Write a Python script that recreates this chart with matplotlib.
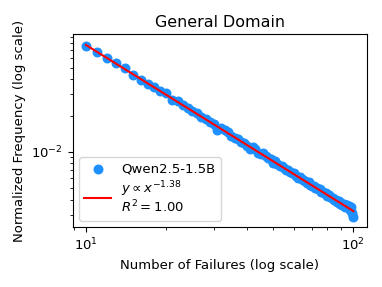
import numpy as np
import matplotlib
matplotlib.use('Agg')
import matplotlib.pyplot as plt

# numero de falhas (10..100)
failures = list(range(10, 101))

# frequencia normalizada (x 1e-3)
freq_e3 = [
    75.2, 68.1, 59.8, 54.4, 49.9, 43.6, 39.3, 36.8, 34.6, 32.3,
    30.8, 27.1, 26.5, 24.7, 22.9, 21.8, 20.9, 19.4, 18.8, 17.6,
    16.9, 15.2, 15.8, 15.1, 14.5, 13.6, 12.9, 12.8, 12.1, 11.9,
    11.1, 10.6, 10.9, 10.5, 9.8, 9.5, 9.7, 9.3, 8.8, 8.7,
    8.1, 8.3, 7.9, 7.6, 7.6, 7.3, 7.1, 7.1, 6.8, 6.6,
    6.6, 6.3, 6.1, 6.2, 5.9, 5.8, 5.7, 5.5, 5.6, 5.3,
    5.2, 5.2, 5.0, 4.95, 4.85, 4.9, 4.65, 4.6, 4.5, 4.5,
    4.3, 4.35, 4.2, 4.1, 4.15, 4.0, 3.95, 3.85, 3.9, 3.7,
    3.75, 3.6, 3.65, 3.5, 3.6, 3.62, 3.55, 3.3, 3.45, 3.1,
    2.85,
]

model_name = 'Qwen2.5-1.5B'
exponent_label = '-1.38'
r2_label = '1.00'


def main():
    plt.rcParams['font.size'] = 9.5
    plt.rcParams['axes.titlesize'] = 11.4

    x = np.array(failures, dtype=float)
    y = np.array(freq_e3) * 1e-3

    # ajuste em log-log
    slope, intercept = np.polyfit(np.log10(x), np.log10(y), 1)
    x_fit = np.array([x.min(), x.max()])
    y_fit = 10 ** (intercept + slope * np.log10(x_fit))

    fig = plt.figure(figsize=(3.82, 2.87), dpi=100)
    ax = fig.add_axes([0.190, 0.208, 0.770, 0.672])

    ax.scatter(x, y, s=38, color='dodgerblue', label=model_name, zorder=2)
    ax.plot(x_fit, y_fit, color='red', lw=1.5, zorder=3,
            label='$y \\propto x^{' + exponent_label + '}$\n$R^2 = ' + r2_label + '$')

    ax.set_xscale('log')
    ax.set_yscale('log')
    ax.set_ylim(0.00235, 0.0946)

    ax.set_title('General Domain', pad=5)
    ax.set_xlabel('Number of Failures (log scale)')
    ax.set_ylabel('Normalized Frequency (log scale)')
    leg = ax.legend(loc='lower left', labelspacing=0.3)
    for t in leg.get_texts():
        t.set_linespacing(1.0)

    fig.savefig('out.png', dpi=100)


if __name__ == '__main__':
    main()
